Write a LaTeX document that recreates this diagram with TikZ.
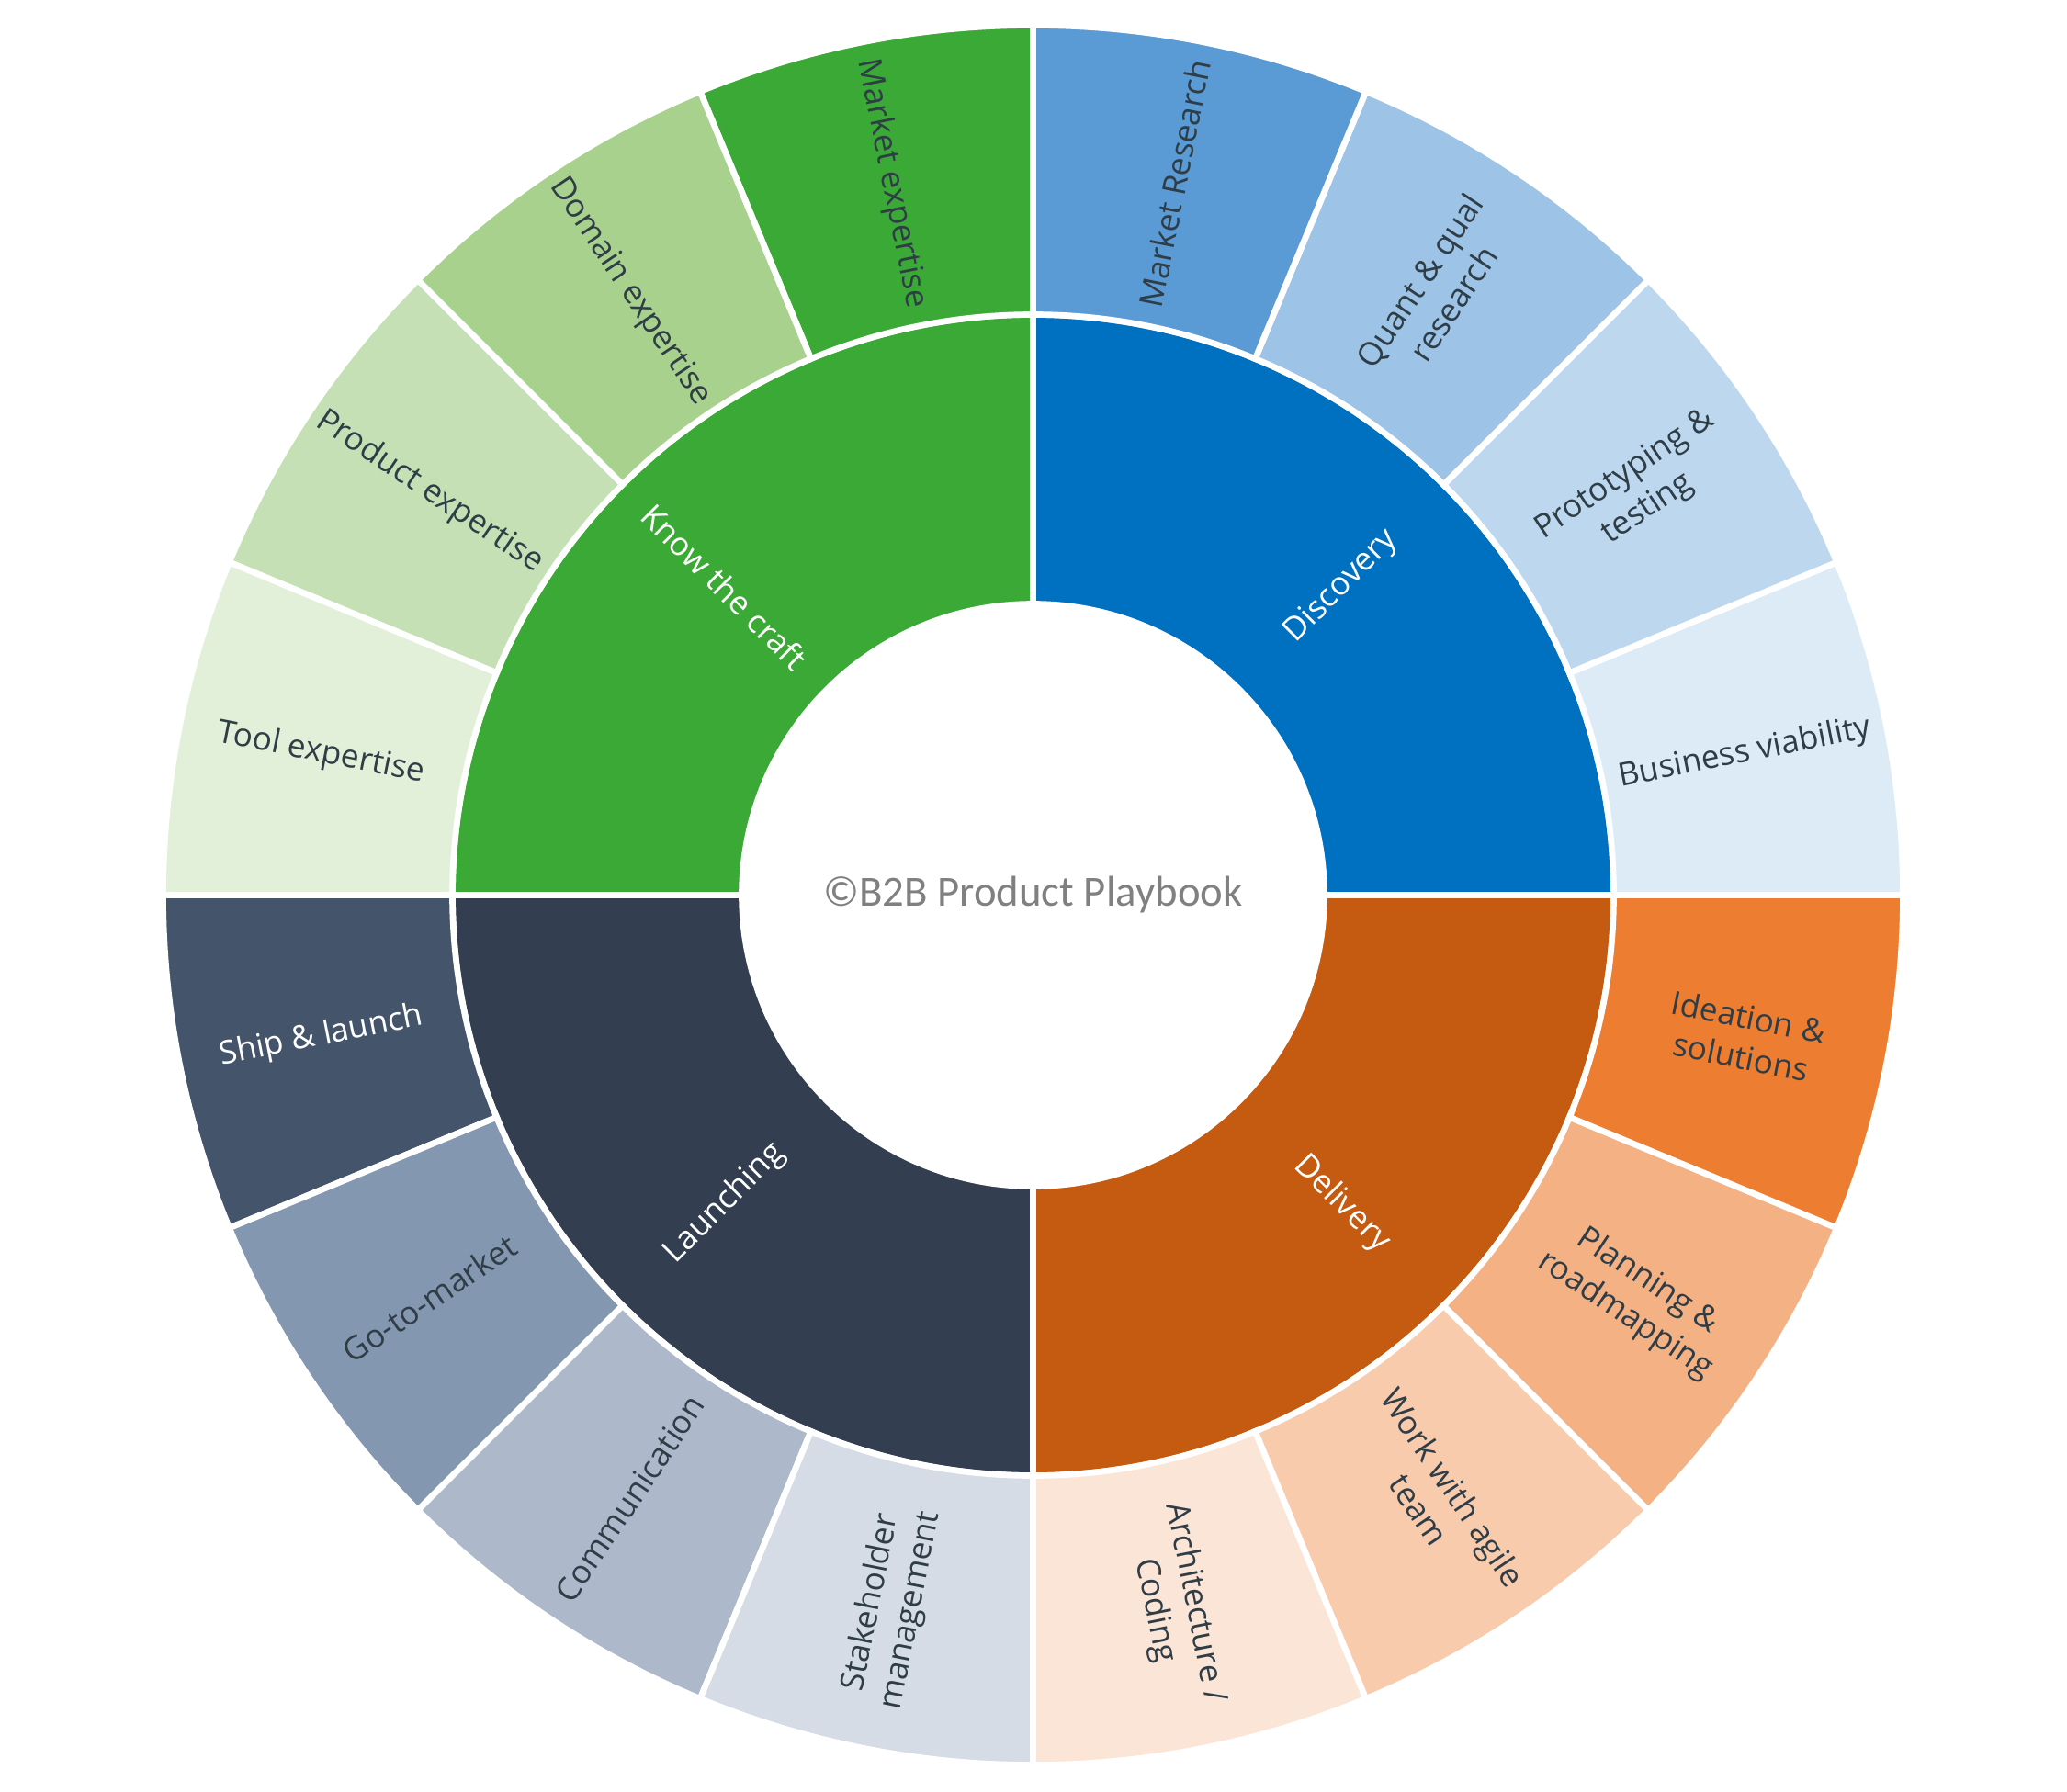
\documentclass[tikz,border=0pt]{standalone}
\usepackage{fontspec}
\setmainfont{Open Sans}
\newfontfamily\ctrfont{Carlito}
\definecolor{craft}{HTML}{3BA935}
\definecolor{disc}{HTML}{0070C0}
\definecolor{deliv}{HTML}{C55A11}
\definecolor{launch}{HTML}{333F50}
\definecolor{o0}{HTML}{DDEBF7}
\definecolor{o1}{HTML}{BDD7EE}
\definecolor{o2}{HTML}{9DC3E6}
\definecolor{o3}{HTML}{5B9BD5}
\definecolor{o4}{HTML}{3BA935}
\definecolor{o5}{HTML}{A9D18E}
\definecolor{o6}{HTML}{C5E0B4}
\definecolor{o7}{HTML}{E2F0D9}
\definecolor{o8}{HTML}{44546A}
\definecolor{o9}{HTML}{8497B0}
\definecolor{o10}{HTML}{ADB9CA}
\definecolor{o11}{HTML}{D6DCE5}
\definecolor{o12}{HTML}{FBE5D6}
\definecolor{o13}{HTML}{F8CBAD}
\definecolor{o14}{HTML}{F4B183}
\definecolor{o15}{HTML}{ED7D31}
\definecolor{labtext}{HTML}{2F3D47}
\definecolor{ctrtext}{HTML}{808080}
\begin{document}
\begin{tikzpicture}[
  seg/.style={draw=white, line width=1.9pt},
  olab/.style={align=center, inner sep=0pt, font=\fontsize{10}{12.6}\selectfont},
  ilab/.style={align=center, inner sep=0pt, text=white, font=\fontsize{10}{12.6}\selectfont},
  clab/.style={inner sep=0pt, text=ctrtext, font=\ctrfont\fontsize{13.3}{16}\selectfont}
]
\useasboundingbox (0,0) rectangle (22.5,19.5);
\begin{scope}[shift={(11.245,9.755)}]
\def\rin{3.17}
\def\rmid{6.32}
\def\rout{9.47}
% inner ring
\foreach \a/\c in {0/disc,90/craft,180/launch,270/deliv}{
  \path[seg, fill=\c] (\a:\rin) arc[start angle=\a, end angle={\a+90}, radius=\rin]
     -- ({\a+90}:\rmid) arc[start angle={\a+90}, end angle=\a, radius=\rmid] -- cycle;
}
% outer ring
\foreach \i in {0,...,15}{
  \pgfmathsetmacro\sa{\i*22.5}
  \pgfmathsetmacro\ea{\i*22.5+22.5}
  \path[seg, fill=o\i] (\sa:\rmid) arc[start angle=\sa, end angle=\ea, radius=\rmid]
     -- (\ea:\rout) arc[start angle=\ea, end angle=\sa, radius=\rout] -- cycle;
}
% outer labels
\foreach \n/\m/\r/\tc/\t in {
  0/11.25/11.25/labtext/{Business viability},
  1/33.75/33.75/labtext/{Prototyping \&\\testing},
  2/56.25/56.25/labtext/{Quant \& qual\\research},
  3/78.75/78.75/labtext/{Market Research},
  4/101.25/-78.75/labtext/{Market expertise},
  5/123.75/-56.25/labtext/{Domain expertise},
  6/146.25/-33.75/labtext/{Product expertise},
  7/168.75/-11.25/labtext/{Tool expertise},
  8/191.25/11.25/white/{Ship \& launch},
  9/213.75/33.75/labtext/{Go-to-market},
  10/236.25/56.25/labtext/{Communication},
  11/258.75/78.75/labtext/{Stakeholder\\management},
  12/281.25/-78.75/labtext/{Architecture /\\Coding},
  13/303.75/-56.25/labtext/{Work with agile\\team},
  14/326.25/-33.75/labtext/{Planning \&\\roadmapping},
  15/348.75/-11.25/labtext/{Ideation \&\\solutions}}{
  \node[olab, text=\tc, rotate=\r] (lab\n) at (\m:7.9) {\t};
}
% inner labels
\node[ilab, rotate=45] (discovery) at (45:4.75) {Discovery};
\node[ilab, rotate=-45] (craftlab) at (135:4.75) {Know the craft};
\node[ilab, rotate=45] (launching) at (225:4.75) {Launching};
\node[ilab, rotate=-45] (delivery) at (315:4.75) {Delivery};
% centre
\node[clab] (centre) at (0,0) {©B2B Product Playbook};
\end{scope}
\end{tikzpicture}
\end{document}
